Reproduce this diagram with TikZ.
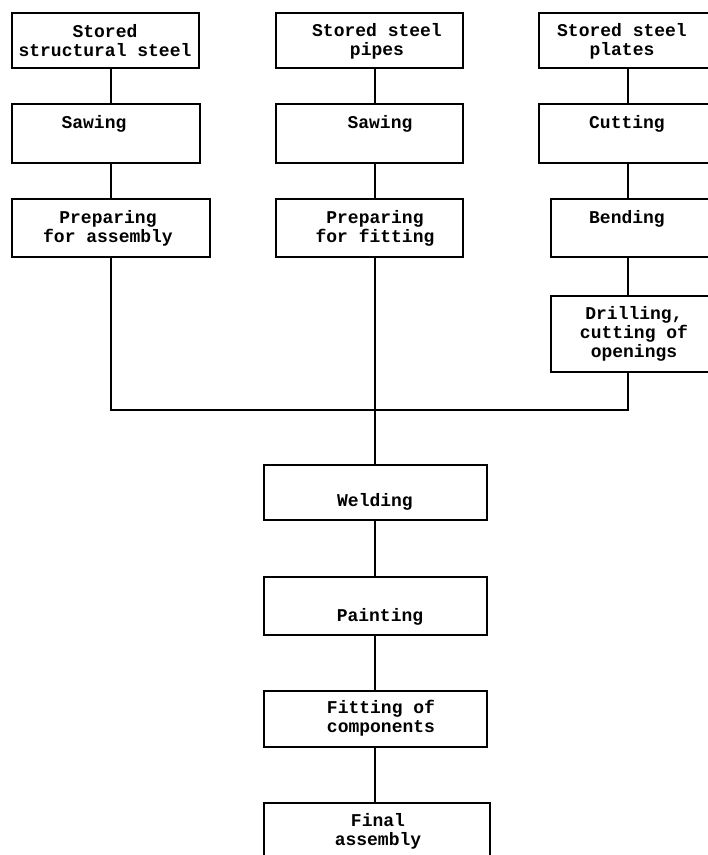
\documentclass[tikz,border=0pt]{standalone}
\usepackage{fontspec}
\setmonofont{Liberation Mono}
\newcommand{\procbox}[5]{% 名称, 左, 上, 右, 下
  \node[box, minimum width={(#4-#2)*1pt}, minimum height={(#5-#3)*1pt}] (#1) at ({(#2+#4)/2},{(#3+#5)/2}) {};}
\begin{document}
\begin{tikzpicture}[x=1pt,y=-1pt,
  box/.style={draw, line width=1.3pt, inner sep=0pt},
  lbl/.style={align=center, inner sep=0pt, font=\ttfamily\bfseries\fontsize{18}{19}\selectfont},
  link/.style={line width=1.3pt}]
% 钢材加工流程图
\useasboundingbox (0,0) rectangle (708,855);
\coordinate (c1) at (111,0);
\coordinate (c2) at (375,0);
\coordinate (c3) at (628,0);
\coordinate (join) at (375,410);
\procbox{st1}{12}{13}{199}{68}
\procbox{saw1}{12}{104}{200}{163}
\procbox{prep1}{12}{199}{210}{257}
\procbox{st2}{276}{13}{463}{68}
\procbox{saw2}{276}{104}{463}{163}
\procbox{prep2}{276}{199}{463}{257}
\procbox{st3}{539}{13}{718}{68}
\procbox{cut3}{539}{104}{718}{163}
\procbox{bend3}{551}{199}{718}{257}
\procbox{drill3}{551}{296}{718}{372}
\procbox{weld}{264}{465}{487}{520}
\procbox{paint}{264}{577}{487}{635}
\procbox{fit}{264}{691}{487}{747}
\procbox{final}{264}{803}{490}{872}
\node[lbl] (t-st1) at (105,41) {Stored\\structural steel};
\node[lbl] (t-saw1) at (94,124) {Sawing};
\node[lbl] (t-prep1) at (108,228) {Preparing\\for assembly};
\node[lbl] (t-st2) at (377,41) {Stored steel\\pipes};
\node[lbl] (t-saw2) at (380,124) {Sawing};
\node[lbl] (t-prep2) at (375,228) {Preparing\\for fitting};
\node[lbl] (t-st3) at (622,41) {Stored steel\\plates};
\node[lbl] (t-cut3) at (627,124) {Cutting};
\node[lbl] (t-bend3) at (627,219) {Bending};
\node[lbl] (t-drill3) at (634,334) {Drilling,\\cutting of\\openings};
\node[lbl] (t-weld) at (375,502) {Welding};
\node[lbl] (t-paint) at (380,617) {Painting};
\node[lbl] (t-fit) at (381,718) {Fitting of\\components};
\node[lbl] (t-final) at (378,831) {Final\\assembly};
\draw[link] (st1.south -| c1) -- (saw1.north -| c1);
\draw[link] (saw1.south -| c1) -- (prep1.north -| c1);
\draw[link] (st2.south -| c2) -- (saw2.north -| c2);
\draw[link] (saw2.south -| c2) -- (prep2.north -| c2);
\draw[link] (st3.south -| c3) -- (cut3.north -| c3);
\draw[link] (cut3.south -| c3) -- (bend3.north -| c3);
\draw[link] (bend3.south -| c3) -- (drill3.north -| c3);
\draw[link] (prep1.south -| c1) |- (join) -| (drill3.south -| c3);
\draw[link] (prep2.south -| c2) -- (weld.north -| c2);
\draw[link] (weld.south -| c2) -- (paint.north -| c2);
\draw[link] (paint.south -| c2) -- (fit.north -| c2);
\draw[link] (fit.south -| c2) -- (final.north -| c2);
\end{tikzpicture}
\end{document}
